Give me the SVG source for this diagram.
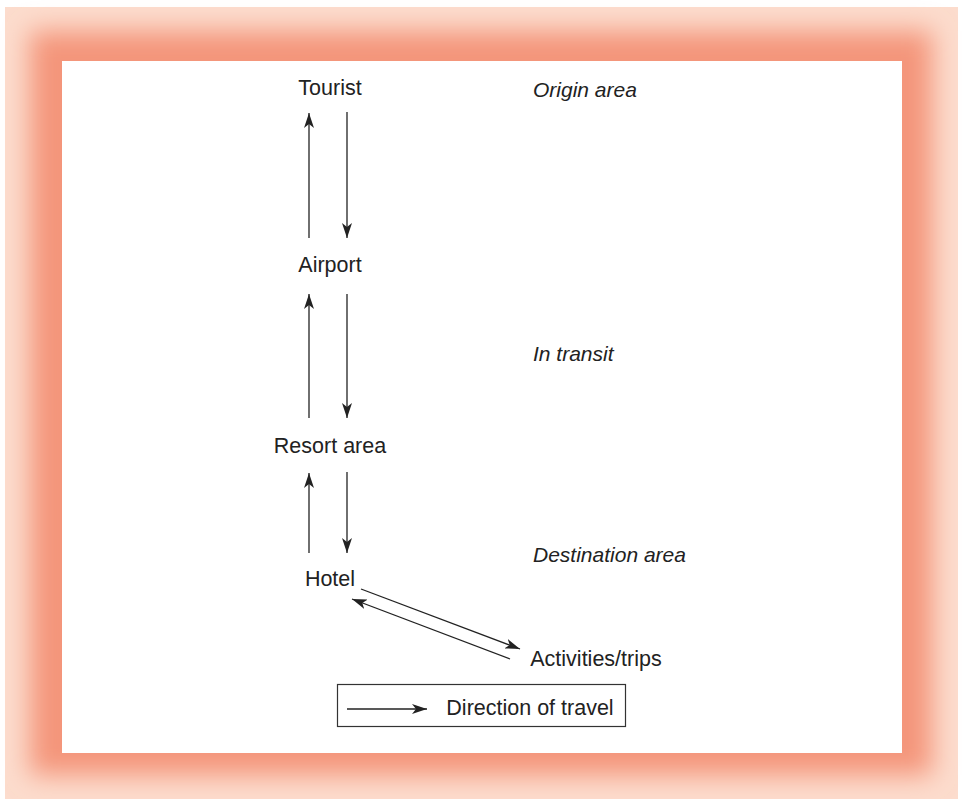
<svg xmlns="http://www.w3.org/2000/svg" width="962" height="799" viewBox="0 0 962 799">
  <defs>
    <filter id="soft" x="-10%" y="-10%" width="120%" height="120%">
      <feGaussianBlur stdDeviation="13"/>
    </filter>
    <marker id="head" viewBox="0 0 15 10" refX="15" refY="5" markerWidth="15" markerHeight="10" markerUnits="userSpaceOnUse" orient="auto">
      <path d="M0,0 L15,5 L0,10 L4,5 z" fill="#222"/>
    </marker>
    <style>
      .node { font-family: "Liberation Sans", Arial, sans-serif; font-size: 21.5px; fill: #222; text-anchor: middle; }
      .zone { font-family: "Liberation Sans", Arial, sans-serif; font-size: 21px; fill: #222; font-style: italic; }
      .link { stroke: #222; stroke-width: 1.3; fill: none; marker-end: url(#head); }
    </style>
  </defs>

  <!-- page background and soft salmon frame -->
  <rect x="0" y="0" width="962" height="799" fill="#ffffff"/>
  <rect x="5" y="7" width="953" height="792" fill="#fcdccd"/>
  <rect x="30" y="31" width="902" height="744" fill="#f4957a" filter="url(#soft)"/>
  <rect x="62" y="61" width="840" height="692" fill="#ffffff"/>

  <!-- zone labels -->
  <g id="zones">
    <text class="zone" x="533" y="97">Origin area</text>
    <text class="zone" x="533" y="361">In transit</text>
    <text class="zone" x="533" y="562">Destination area</text>
  </g>

  <!-- nodes -->
  <g id="tourist"><text class="node" x="330" y="95">Tourist</text></g>
  <g id="airport"><text class="node" x="330" y="272">Airport</text></g>
  <g id="resort"><text class="node" x="330" y="453">Resort area</text></g>
  <g id="hotel"><text class="node" x="330" y="586">Hotel</text></g>
  <g id="activities"><text class="node" x="596" y="666">Activities/trips</text></g>

  <!-- connectors -->
  <g id="connectors">
    <line class="link" x1="309" y1="238" x2="309" y2="113"/>
    <line class="link" x1="347" y1="112" x2="347" y2="238"/>
    <line class="link" x1="309" y1="418" x2="309" y2="294"/>
    <line class="link" x1="347" y1="294" x2="347" y2="418"/>
    <line class="link" x1="309" y1="553" x2="309" y2="473"/>
    <line class="link" x1="347" y1="472" x2="347" y2="553"/>
    <line class="link" x1="361" y1="589" x2="520" y2="649"/>
    <line class="link" x1="510" y1="659" x2="352" y2="599"/>
  </g>

  <!-- legend -->
  <g id="legend">
    <rect x="337.5" y="684.5" width="288" height="42" fill="#ffffff" stroke="#333" stroke-width="1.2"/>
    <line class="link" x1="347" y1="709" x2="427" y2="709"/>
    <text class="node" x="530" y="715">Direction of travel</text>
  </g>
</svg>
